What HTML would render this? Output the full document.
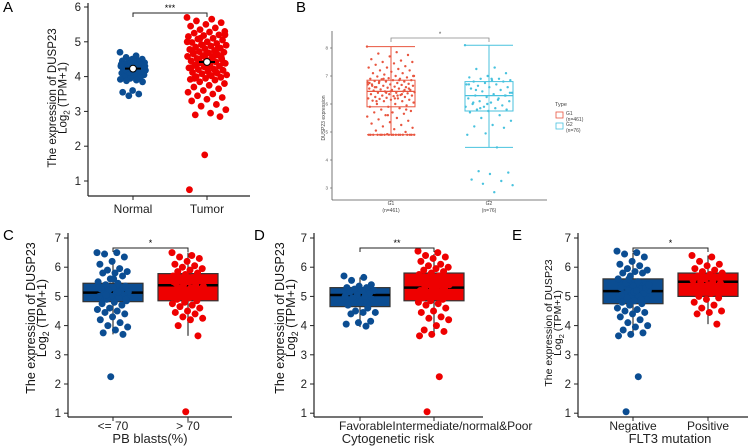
<!DOCTYPE html>
<html><head><meta charset="utf-8"><style>
html,body{margin:0;padding:0;background:#fff;width:753px;height:448px;overflow:hidden}
svg text{font-family:"Liberation Sans",sans-serif}
</style></head><body>
<svg id="fig" width="753" height="448" viewBox="0 0 753 448" xmlns="http://www.w3.org/2000/svg"></svg>
<script>
// ---------- data ----------
const aCategories = ["Normal","Tumor"];
const aNormal = [4.7,4.6,4.55,4.5,4.5,4.45,4.45,4.4,4.4,4.38,4.35,4.35,4.32,4.3,4.3,4.28,4.25,4.25,4.22,4.2,4.2,4.18,4.15,4.15,4.12,4.1,4.1,4.08,4.05,4.05,4.02,4.0,3.98,3.95,3.92,3.9,3.88,3.85,3.6,3.55,3.5,3.45,4.3,4.25,4.2,4.15,4.4,4.35];
const aTumor = [5.7,5.65,5.6,5.55,5.5,5.45,5.4,5.35,5.3,5.28,5.25,5.2,5.18,5.15,5.1,5.08,5.05,5.0,4.98,4.95,4.92,4.9,4.88,4.85,4.82,4.8,4.78,4.75,4.72,4.7,4.68,4.65,4.62,4.6,4.58,4.55,4.52,4.5,4.48,4.45,4.42,4.4,4.38,4.35,4.32,4.3,4.28,4.25,4.22,4.2,4.18,4.15,4.12,4.1,4.08,4.05,4.02,4.0,3.98,3.95,3.92,3.9,3.85,3.8,3.75,3.7,3.65,3.6,3.55,3.5,3.45,3.4,3.35,3.3,3.2,3.15,3.05,2.95,2.9,2.85,1.75,0.75,4.6,4.5,4.4,4.3,4.7,4.8,4.9,5.0,4.45,4.35,4.55,4.65,4.25,4.15,5.1,5.2,4.05,3.95];
const aMeans = [4.23,4.42];
const bCategories = ["G1","G2"];
const bCounts = ["(n=461)","(n=76)"];
const bG1 = [8.05,7.85,7.8,7.75,7.7,7.6,7.55,7.5,7.5,7.45,7.4,7.35,7.3,7.3,7.25,7.2,7.2,7.15,7.1,7.1,7.05,7.0,7.0,6.98,6.95,6.92,6.9,6.9,6.88,6.85,6.85,6.82,6.8,6.8,6.78,6.75,6.75,6.72,6.7,6.7,6.68,6.65,6.65,6.62,6.6,6.6,6.58,6.55,6.55,6.52,6.5,6.5,6.48,6.45,6.45,6.42,6.4,6.4,6.38,6.35,6.35,6.32,6.3,6.3,6.28,6.25,6.25,6.22,6.2,6.2,6.18,6.15,6.15,6.12,6.1,6.1,6.05,6.0,6.0,5.95,5.9,5.9,5.85,5.8,5.75,5.7,5.7,5.65,5.6,5.55,5.5,5.45,5.4,5.35,5.3,5.25,5.2,5.15,5.1,5.05,5.0,4.92,4.9,4.9,4.9,4.9,4.9,4.9,4.9,4.9,4.9,4.9,4.9,4.9,4.9,4.9,4.9,4.9,4.9,4.9,6.6,6.5,6.4,6.7,6.3,6.8,6.55,6.45,6.65,6.35,6.9,7.0,6.2,6.1,5.8,5.6,6.75,6.85];
const bG2 = [8.1,7.3,7.25,7.1,7.0,6.95,6.9,6.9,6.85,6.85,6.8,6.8,6.75,6.7,6.7,6.65,6.6,6.6,6.55,6.5,6.45,6.4,6.35,6.3,6.3,6.25,6.2,6.15,6.1,6.1,6.05,6.0,5.95,5.9,5.9,5.85,5.8,5.8,5.75,5.7,5.6,5.5,5.4,5.25,5.2,5.15,4.95,4.9,4.45,3.6,3.55,3.5,3.3,3.25,3.15,3.1,2.85,6.5,6.3,6.0,6.7,6.2,5.85,6.4,6.9,6.05];
const bStats = [[4.9,5.9,6.45,6.85,8.05],[4.45,5.75,6.3,6.8,8.1]];
const cCategories = ["<= 70","> 70"];
const c1 = [6.5,6.5,6.45,6.35,6.2,6.1,5.95,5.9,5.85,5.8,5.8,5.7,5.6,5.5,5.45,5.4,5.35,5.3,5.25,5.2,5.2,5.15,5.1,5.1,5.05,5.0,5.0,4.95,4.9,4.85,4.8,4.75,4.7,4.6,4.55,4.5,4.45,4.4,4.3,4.2,4.1,4.0,3.95,3.85,3.75,3.7,2.25,5.3,5.15,5.05,4.9,5.6];
const c2 = [6.5,6.4,6.35,6.3,6.2,6.1,6.05,6.0,5.95,5.9,5.85,5.8,5.75,5.7,5.65,5.6,5.55,5.5,5.45,5.4,5.4,5.35,5.3,5.3,5.25,5.2,5.15,5.1,5.05,5.0,4.95,4.9,4.85,4.8,4.75,4.7,4.65,4.6,4.5,4.45,4.4,4.3,4.25,4.2,4.0,3.65,1.05,5.5,5.2,5.6];
const cStats = [[3.7,4.82,5.13,5.45,6.15],[3.65,4.85,5.38,5.78,6.5]];
const dCategories = ["Favorable","Intermediate/normal&Poor"];
const d1 = [5.7,5.65,5.55,5.4,5.35,5.3,5.3,5.25,5.2,5.2,5.15,5.1,5.05,5.0,5.0,4.95,4.9,4.8,4.7,4.6,4.5,4.45,4.45,4.4,4.15,4.1,4.05,3.98];
const d2 = [6.55,6.5,6.4,6.35,6.3,6.2,6.1,6.05,6.0,5.95,5.9,5.85,5.8,5.75,5.7,5.65,5.6,5.55,5.5,5.45,5.4,5.4,5.35,5.3,5.3,5.25,5.2,5.15,5.1,5.05,5.0,4.95,4.9,4.85,4.8,4.75,4.7,4.6,4.5,4.45,4.3,4.25,4.2,4.0,3.85,3.8,3.7,3.65,2.25,1.05,5.5,5.2,5.6,5.35];
const dStats = [[3.95,4.65,5.05,5.3,5.65],[3.65,4.85,5.3,5.8,6.45]];
const eCategories = ["Negative","Positive"];
const e1 = [6.55,6.5,6.45,6.35,6.2,6.1,6.05,5.95,5.9,5.85,5.8,5.8,5.7,5.6,5.5,5.45,5.4,5.35,5.3,5.25,5.2,5.2,5.15,5.1,5.1,5.05,5.0,5.0,4.95,4.9,4.85,4.8,4.75,4.7,4.6,4.55,4.5,4.45,4.4,4.3,4.2,4.1,4.0,3.95,3.85,3.75,3.7,3.65,2.25,1.05,5.3,5.15,5.05,4.9,5.6,5.4,5.2];
const e2 = [6.4,6.35,6.2,6.1,6.05,5.95,5.9,5.85,5.8,5.75,5.7,5.65,5.6,5.55,5.5,5.5,5.45,5.4,5.35,5.3,5.25,5.2,5.1,5.0,4.95,4.9,4.8,4.7,4.6,4.5,4.45,4.4,4.05];
const eStats = [[3.65,4.75,5.18,5.6,6.5],[4.05,5.0,5.5,5.8,6.4]];
const tickValsA = [1,2,3,4,5,6];
const tickValsB = [3,4,5,6,7,8];
const tickValsCDE = [1,2,3,4,5,6,7];

// ---------- helpers ----------
const svg = document.getElementById('fig');
const NS = 'http://www.w3.org/2000/svg';
function el(tag, attrs, parent, text){
  const e = document.createElementNS(NS, tag);
  for (const k in attrs) e.setAttribute(k, attrs[k]);
  if (text !== undefined) e.textContent = text;
  (parent || svg).appendChild(e);
  return e;
}
function jit(i, w){ return (((i * 0.6180339887) % 1) - 0.5) * 2 * w; }
const BLUE = '#0b4d92', RED = '#ee0000';

function yTitle(g, x, cy, fs, gap){
  const t = el('text', {x:0, y:0, 'font-size':fs, 'text-anchor':'middle', fill:'#111', transform:`translate(${x},${cy}) rotate(-90)`}, g);
  
  
  el('tspan', {x:0, dy:0}, t, 'The expression of DUSP23');
  el('tspan', {x:0, dy:gap}, t, 'Log');
  el('tspan', {'font-size':fs*0.7, dy:3}, t, '2');
  el('tspan', {dy:-3}, t, ' (TPM+1)');
}

function axesGeneric(g, o){
  const ya = el('line', {x1:o.ax, y1:o.yTop, x2:o.ax, y2:o.yBottom, stroke:'#222', 'stroke-width':1.2}, g);
  
  
  const xa = el('line', {x1:o.ax, y1:o.yBottom, x2:o.xEnd, y2:o.yBottom, stroke:'#222', 'stroke-width':1.2}, g);
  
  
  o.ticks.forEach(v=>{
    const yy = o.y(v);
    el('line', {x1:o.ax-4, y1:yy, x2:o.ax, y2:yy, stroke:'#222'}, g);
    const t = el('text', {x:o.ax-7, y:yy+4, 'font-size':11.5, 'text-anchor':'end', fill:'#222'}, g, String(v));
    
    
  });
  o.catX.forEach((cx,i)=>{
    el('line', {x1:cx, y1:o.yBottom, x2:cx, y2:o.yBottom+4, stroke:'#222'}, g);
    if (o.cats[i] !== null){
      const t = el('text', {x:cx, y:o.catY, 'font-size':12, 'text-anchor':'middle', fill:'#222'}, g, o.cats[i]);
      
      
    }
  });
}

function bracket(g, x1, x2, y, label){
  el('path', {d:`M${x1},${y+4}V${y}H${x2}V${y+4}`, fill:'none', stroke:'#222', 'stroke-width':1}, g);
  const t = el('text', {x:(x1+x2)/2, y:y-2, 'font-size':9, 'text-anchor':'middle'}, g, label);
  
  
}

function panelLabel(x, y, s){
  const t = el('text', {x:x, y:y, 'font-size':15, 'font-family':'Liberation Serif, serif'}, svg, s);
  
  
}

// ---------- Panel A ----------
(function(){
  const g = el('g', {});
  
  
  const y = v => 7 + (6 - v) * 34.8;
  const catX = [133, 207];
  axesGeneric(g, {ax:88, yTop:3, yBottom:196, xEnd:250, y:y, ticks:tickValsA, cats:aCategories, catX:catX, catY:213});
  yTitle(g, 56, 98, 11.5, 10.5);
  bracket(g, catX[0], catX[1], 13, '***');
  [[aNormal, BLUE, 13], [aTumor, RED, 20]].forEach(([vals, col, w], k)=>{
    vals.forEach((v,i)=>{
      const c = el('circle', {cx:catX[k] + jit(i, w), cy:y(v), r:3.4, fill:col}, g);
      
      
    });
    const m = aMeans[k];
    el('line', {x1:catX[k]-8, y1:y(m), x2:catX[k]+8, y2:y(m), stroke:'#000', 'stroke-width':2}, g);
    const mc = el('circle', {cx:catX[k], cy:y(m), r:3.4, fill:'#fff', stroke:'#000', 'stroke-width':1}, g);
    
    
  });
  panelLabel(3, 12, 'A');
})();

// ---------- Panel B ----------
(function(){
  const g = el('g', {});
  
  
  const y = v => 48 + (8 - v) * 28;
  const ax = 332, yb = 200, xEnd = 547;
  const catX = [391, 489];
  const cols = ['#e8553f', '#48c2de'];
  el('line', {x1:ax, y1:31, x2:ax, y2:yb, stroke:'#555', 'stroke-width':0.8}, g);
  el('line', {x1:ax, y1:yb, x2:xEnd, y2:yb, stroke:'#555', 'stroke-width':0.8}, g);
  tickValsB.forEach(v=>{
    el('line', {x1:ax-2, y1:y(v), x2:ax, y2:y(v), stroke:'#555', 'stroke-width':0.6}, g);
    const t = el('text', {x:ax-4, y:y(v)+1.5, 'font-size':4.5, 'text-anchor':'end', fill:'#555', 'font-family':'Liberation Serif, serif'}, g, String(v));
    
    
  });
  const yt = el('text', {x:0, y:0, 'font-size':5, 'text-anchor':'middle', fill:'#444', 'font-family':'Liberation Serif, serif', transform:`translate(325,118) rotate(-90)`}, g, 'DUSP23 expression');
  
  
  [bG1, bG2].forEach((vals, k)=>{
    const cx = catX[k], s = bStats[k], hw = 24, col = cols[k];
    el('line', {x1:cx, y1:y(s[0]), x2:cx, y2:y(s[4]), stroke:col, 'stroke-width':1}, g);
    el('line', {x1:cx-hw, y1:y(s[0]), x2:cx+hw, y2:y(s[0]), stroke:col, 'stroke-width':1}, g);
    el('line', {x1:cx-hw, y1:y(s[4]), x2:cx+hw, y2:y(s[4]), stroke:col, 'stroke-width':1}, g);
    const b = el('rect', {x:cx-hw, y:y(s[3]), width:2*hw, height:y(s[1])-y(s[3]), fill:'#fff', 'fill-opacity':0.3, stroke:col, 'stroke-width':1}, g);
    
    
    el('line', {x1:cx-hw, y1:y(s[2]), x2:cx+hw, y2:y(s[2]), stroke:col, 'stroke-width':1.2}, g);
    vals.forEach((v,i)=>{
      const c = el('circle', {cx:cx + jit(i, 24), cy:y(v), r:1.2, fill:col}, g);
      
      
    });
    el('line', {x1:cx, y1:yb, x2:cx, y2:yb+2, stroke:'#555', 'stroke-width':0.6}, g);
    const t1 = el('text', {x:cx, y:205, 'font-size':5, 'text-anchor':'middle', fill:'#444', 'font-family':'Liberation Serif, serif'}, g, bCategories[k]);
    
    
    const t2 = el('text', {x:cx, y:212, 'font-size':5, 'text-anchor':'middle', fill:'#444', 'font-family':'Liberation Serif, serif'}, g, bCounts[k]);
    
    
  });
  el('path', {d:`M${catX[0]},42V38H${catX[1]}V42`, fill:'none', stroke:'#888', 'stroke-width':0.8}, g);
  el('text', {x:440, y:36, 'font-size':6, 'text-anchor':'middle', fill:'#444'}, g, '*');
  const lg = el('g', {}, g);
  
  
  el('text', {x:555, y:106, 'font-size':5.5, fill:'#444', 'font-family':'Liberation Serif, serif'}, lg, 'Type');
  [['G1','(n=461)',112],['G2','(n=76)',123]].forEach((r,k)=>{
    const key = el('rect', {x:556, y:r[2], width:7, height:6, fill:'#fff', stroke:cols[k], 'stroke-width':0.8}, lg);
    
    
    el('text', {x:566, y:r[2]+3, 'font-size':5, fill:'#444', 'font-family':'Liberation Serif, serif'}, lg, r[0]);
    el('text', {x:566, y:r[2]+9, 'font-size':5, fill:'#444', 'font-family':'Liberation Serif, serif'}, lg, r[1]);
  });
  panelLabel(296, 12, 'B');
})();

// ---------- Panels C, D, E ----------
function bottomPanel(o){
  const g = el('g', {});
  
  
  const y = v => 238 + (7 - v) * 29.2;
  axesGeneric(g, {ax:o.ax, yTop:233, yBottom:417, xEnd:o.xEnd, y:y, ticks:tickValsCDE, cats:o.catLabels, catX:o.catX, catY:430});
  if (o.combined){
    const t = el('text', {x:o.combined[0], y:430, 'font-size':12, fill:'#222'}, g, o.cats.join(''));
    
    
  }
  const xt = el('text', {x:o.titleX, y:443, 'font-size':13, 'text-anchor':'middle', fill:'#222'}, g, o.xTitle);
  
  
  yTitle(g, o.ytX, o.ytY, o.ytFs, o.ytGap);
  [o.g1, o.g2].forEach((vals,k)=>{
    const cx = o.catX[k], s = o.stats[k], hw = 30, col = k ? RED : BLUE;
    el('line', {x1:cx, y1:y(s[0]), x2:cx, y2:y(s[4]), stroke:'#333', 'stroke-width':1.2}, g);
    const b = el('rect', {x:cx-hw, y:y(s[3]), width:2*hw, height:y(s[1])-y(s[3]), fill:col, stroke:'#333', 'stroke-width':1.2}, g);
    
    
    el('line', {x1:cx-hw, y1:y(s[2]), x2:cx+hw, y2:y(s[2]), stroke:'#000', 'stroke-width':2.5}, g);
    vals.forEach((v,i)=>{
      const c = el('circle', {cx:cx + jit(i, 16), cy:y(v), r:3.5, fill:col}, g);
      
      
    });
  });
  bracket(g, o.catX[0], o.catX[1], 248, o.sig);
  panelLabel(o.lx, 240, o.letter);
}
bottomPanel({name:'panel-c', ax:68, xEnd:232, catX:[113,188], cats:cCategories, catLabels:cCategories, g1:c1, g2:c2, stats:cStats, xTitle:'PB blasts(%)', titleX:150, ytX:35, ytY:318, ytFs:12.5, ytGap:11, sig:'*', letter:'C', lx:3});
bottomPanel({name:'panel-d', ax:314, xEnd:483, catX:[360,434], cats:dCategories, catLabels:[null,null], combined:[339], g1:d1, g2:d2, stats:dStats, xTitle:'Cytogenetic risk', titleX:388, ytX:284, ytY:318, ytFs:12.5, ytGap:11, sig:'**', letter:'D', lx:254});
bottomPanel({name:'panel-e', ax:578, xEnd:748, catX:[633,708], cats:eCategories, catLabels:eCategories, g1:e1, g2:e2, stats:eStats, xTitle:'FLT3 mutation', titleX:670, ytX:552, ytY:323, ytFs:10.5, ytGap:9, sig:'*', letter:'E', lx:512});
</script>
</body></html>
